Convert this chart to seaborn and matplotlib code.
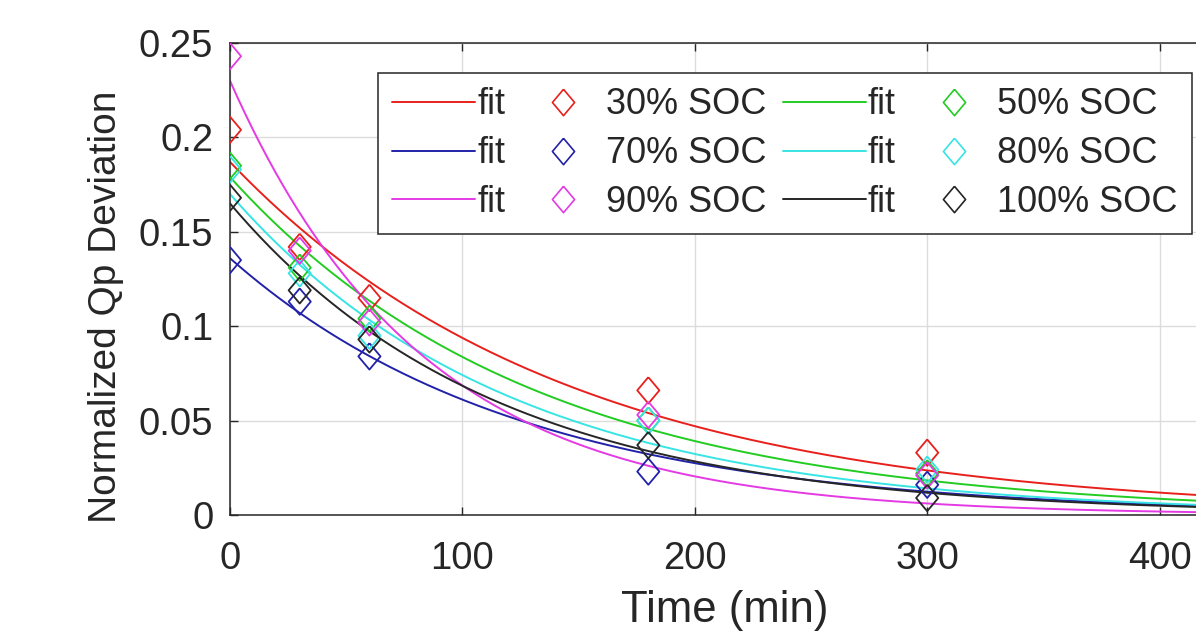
import numpy as np
import pandas as pd
import matplotlib
matplotlib.use("Agg")
import matplotlib.pyplot as plt
from matplotlib.lines import Line2D
import seaborn as sns

# Measured deviation at each rest time, one list per state of charge
time_min = [0, 30, 60, 180, 300]
soc_labels = ["30% SOC", "50% SOC", "70% SOC", "80% SOC", "90% SOC", "100% SOC"]
dev_30 = [0.204, 0.142, 0.115, 0.066, 0.033]
dev_50 = [0.185, 0.131, 0.104, 0.050, 0.022]
dev_70 = [0.135, 0.113, 0.084, 0.023, 0.016]
dev_80 = [0.183, 0.128, 0.095, 0.050, 0.024]
dev_90 = [0.243, 0.140, 0.102, 0.053, 0.021]
dev_100 = [0.168, 0.119, 0.093, 0.037, 0.009]

# Exponential fit parameters y = a * exp(-b * t) for each series
fit_a = [0.187, 0.179, 0.136, 0.170, 0.230, 0.165]
fit_b = [0.0069, 0.0076, 0.0080, 0.0083, 0.0121, 0.0088]

colors = ["#e8201c", "#22cc22", "#2222a8", "#38e4e4", "#e43ae4", "#262626"]

series = [dev_30, dev_50, dev_70, dev_80, dev_90, dev_100]

sns.set_theme(style="white")
plt.rcParams["font.family"] = ["Liberation Sans", "DejaVu Sans"]

fig = plt.figure(figsize=(11.96, 6.35), dpi=100)
ax = fig.add_axes([0.1923, 0.189, 0.8278, 0.7433])

# diamond marker, a bit taller than wide
diamond = [(0, 1), (0.84, 0), (0, -1), (-0.84, 0), (0, 1)]

t_fit = np.linspace(0, 430, 400)
for vals, a, b, c, lab in zip(series, fit_a, fit_b, colors, soc_labels):
    fit_df = pd.DataFrame({"t": t_fit, "y": a * np.exp(-b * t_fit)})
    sns.lineplot(data=fit_df, x="t", y="y", color=c, linewidth=1.4, ax=ax, legend=False)
    pts = pd.DataFrame({"t": time_min, "y": vals})
    sns.scatterplot(data=pts, x="t", y="y", marker=diamond, s=19 ** 2,
                    facecolor="none", edgecolor=c, linewidth=1.3, ax=ax,
                    legend=False, zorder=3)

ax.set_xlim(0, 426)
ax.set_ylim(0, 0.25)
ax.set_xticks([0, 100, 200, 300, 400])
ax.set_yticks([0, 0.05, 0.1, 0.15, 0.2, 0.25])
ax.set_yticklabels(["0", "0.05", "0.1", "0.15", "0.2", "0.25"])
ax.grid(True, color="#dcdcdc", linewidth=1.0)
ax.set_axisbelow(True)
for side in ["left", "bottom", "top", "right"]:
    ax.spines[side].set_visible(True)
    ax.spines[side].set_color("#262626")
    ax.spines[side].set_linewidth(1.1)
ax.tick_params(direction="in", length=6, width=1, colors="#262626",
               labelsize=27.5, top=True, left=True, bottom=True)
ax.tick_params(axis="x", pad=19)
ax.tick_params(axis="y", pad=12)
ax.set_xlabel("Time (min)", fontsize=31.5, color="#262626", labelpad=9)
ax.set_ylabel("Normalized Qp Deviation", fontsize=28, color="#262626")
ax.yaxis.set_label_coords(-0.107, 0.44)

# Legend: fit line then data marker, two series per row
def fit_handle(c):
    return Line2D([], [], color=c, linewidth=1.4)

def pt_handle(c):
    return Line2D([], [], linestyle="none", marker=diamond, markersize=19,
                  markerfacecolor="none", markeredgecolor=c, markeredgewidth=1.2)

# column-major order for a 3-row, 4-column legend
order = [0, 2, 4, 1, 3, 5]
col1 = [fit_handle(colors[i]) for i in order[:3]]
col2 = [pt_handle(colors[i]) for i in order[:3]]
col3 = [fit_handle(colors[i]) for i in order[3:]]
col4 = [pt_handle(colors[i]) for i in order[3:]]
handles = col1 + col2 + col3 + col4
labels = (["fit"] * 3 + [soc_labels[i] for i in order[:3]]
          + ["fit"] * 3 + [soc_labels[i] for i in order[3:]])

leg = ax.legend(handles, labels, ncol=4, loc="upper left",
                bbox_to_anchor=(0.316, 0.885), bbox_transform=fig.transFigure,
                borderaxespad=0, fontsize=26, frameon=True, fancybox=False,
                framealpha=1, edgecolor="#262626", handlelength=2.3,
                handletextpad=0.05, columnspacing=0.45, labelspacing=0.38,
                borderpad=0.4)
leg.get_frame().set_linewidth(1.1)
for txt in leg.get_texts():
    txt.set_color("#262626")

fig.savefig("out.png", dpi=100)
